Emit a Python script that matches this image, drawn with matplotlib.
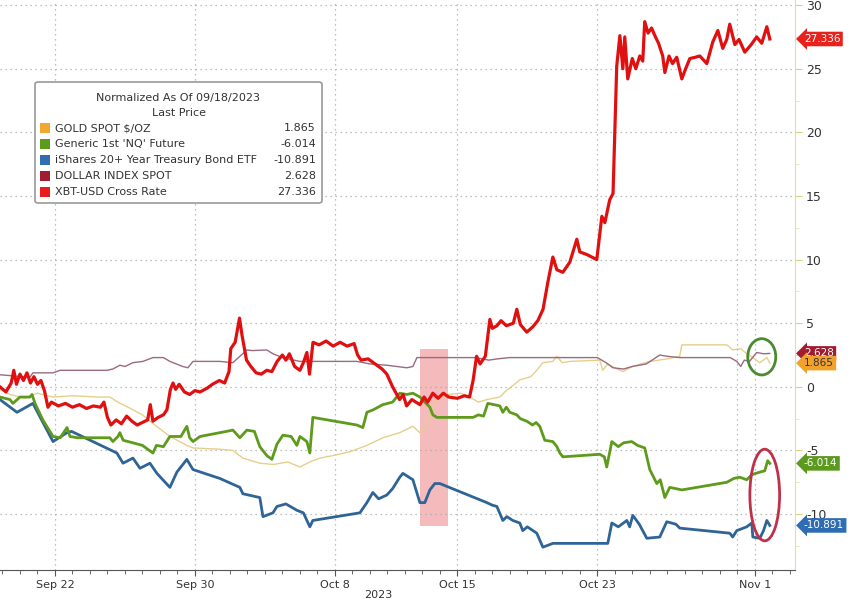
import numpy as np
import pandas as pd
import matplotlib
matplotlib.use('Agg')
import matplotlib.pyplot as plt
import matplotlib.dates as mdates
from matplotlib.patches import Ellipse, Rectangle, FancyBboxPatch
from matplotlib.transforms import blended_transform_factory

# days since 2023-09-18, values normalized (% change)
start = pd.Timestamp('2023-09-18')

xbt_t = [0.86, 1.2, 1.5, 1.65, 1.8, 2.0, 2.2, 2.4, 2.6, 2.8, 3.0, 3.2, 3.4, 3.6, 3.8, 4.2, 4.6,
         5.0, 5.4, 5.8, 6.2, 6.6, 6.8, 7.0, 7.2, 7.5, 7.8, 8.1, 8.4, 8.7, 9.0, 9.3, 9.45, 9.6,
         9.9, 10.2, 10.4, 10.6, 10.75, 10.9, 11.1, 11.4, 11.7, 12.0, 12.3, 12.7, 13.0, 13.4,
         13.7, 13.95, 14.05, 14.3, 14.55, 14.7, 14.95, 15.2, 15.5, 15.8, 16.1, 16.4, 16.7, 17.0,
         17.2, 17.4, 17.7, 18.0, 18.2, 18.4, 18.55, 18.75, 19.1, 19.5, 19.9, 20.3, 20.7, 21.1,
         21.3, 21.5, 21.9, 22.3, 22.7, 22.97, 23.3, 23.7, 23.9, 24.1, 24.4, 24.86, 25.1, 25.3,
         25.6, 25.9, 26.2, 26.5, 27.0, 27.4, 27.7, 27.9, 28.1, 28.3, 28.6, 28.86, 29.0, 29.26,
         29.5, 29.8, 30.2, 30.4, 30.6, 30.97, 31.3, 31.6, 31.9, 32.17, 32.46, 32.69, 33.03,
         33.43, 33.83, 34.0, 34.4, 34.97, 35.26, 35.43, 35.71, 35.9, 36.11, 36.29, 36.46, 36.57,
         36.74, 37.0, 37.2, 37.43, 37.6, 37.71, 37.9, 38.1, 38.29, 38.5, 38.74, 38.86, 39.1,
         39.3, 39.54, 39.83, 40.05, 40.29, 40.6, 40.86, 41.26, 41.6, 41.89, 42.17, 42.4, 42.57,
         42.86, 43.1, 43.43, 43.8, 44.11, 44.4, 44.69, 44.86]
xbt_v = [0.0, -0.4, 0.3, 1.3, 0.2, 1.0, 0.5, 1.1, 0.3, 0.8, 0.2, 0.5, -0.3, -1.6, -1.2, -1.5, -1.3,
         -1.6, -1.4, -1.7, -1.5, -1.6, -1.2, -2.4, -3.0, -2.6, -2.9, -2.3, -2.7, -3.0, -2.8, -2.6,
         -1.4, -2.7, -2.4, -2.2, -1.8, -0.2, 0.3, -0.2, 0.2, -0.4, -0.6, -0.3, -0.4, -0.1, 0.2,
         0.5, 0.3, 1.2, 3.0, 3.5, 5.4, 4.0, 2.1, 1.6, 1.1, 1.0, 1.3, 1.2, 2.0, 2.5, 2.1, 2.6, 1.6,
         1.3, 1.9, 2.7, 1.0, 3.5, 3.3, 3.6, 3.2, 3.5, 3.2, 3.4, 2.5, 2.1, 2.2, 1.8, 1.4, 1.0, 0.0,
         -1.0, -0.6, -1.5, -1.0, -1.4, -0.8, -1.2, -0.5, -0.9, -0.5, -0.8, -0.9, -0.7, -0.8, 0.5,
         2.4, 1.8, 2.4, 5.3, 4.6, 4.8, 5.2, 4.8, 5.0, 6.1, 4.9, 4.3, 4.7, 5.2, 6.1, 8.2, 10.2,
         9.2, 9.0, 9.8, 11.6, 10.6, 10.4, 10.0, 13.4, 12.9, 14.7, 15.2, 25.2, 27.6, 25.0, 27.5,
         24.2, 25.8, 25.0, 26.0, 25.6, 28.7, 27.8, 28.2, 27.6, 27.0, 26.0, 24.7, 26.0, 25.4,
         25.9, 24.2, 25.0, 25.8, 25.9, 26.0, 25.4, 27.1, 28.0, 26.6, 27.3, 28.5, 26.9, 27.3,
         26.3, 26.9, 27.5, 27.0, 28.3, 27.336]

tlt_t = [0.86, 1.83, 2.74, 2.97, 3.89, 4.69, 4.95, 7.54, 7.89, 8.46, 8.86, 9.43, 9.83, 10.57,
         10.97, 11.54, 11.89, 13.43, 14.57, 14.74, 15.71, 15.89, 16.46, 16.69, 17.2, 17.83, 18.2,
         18.57, 18.74, 21.43, 21.83, 22.17, 22.5, 22.97, 23.3, 23.71, 23.89, 24.46, 24.86, 25.14,
         25.43, 25.71, 26.0, 28.69, 29.0, 29.26, 29.6, 29.83, 30.17, 30.57, 30.74, 31.0, 31.54,
         31.89, 32.46, 35.6, 35.83, 36.2, 36.69, 36.85, 37.03, 37.4, 37.83, 38.57, 38.97, 39.5,
         39.71, 42.57, 42.74, 42.97, 43.54, 43.83, 43.89, 44.29, 44.5, 44.69, 44.86]
tlt_v = [-1.0, -2.0, -1.3, -1.9, -4.3, -3.6, -3.5, -5.2, -6.0, -5.6, -6.4, -6.0, -6.8, -7.9,
         -6.7, -5.7, -6.5, -7.2, -7.9, -8.4, -8.7, -10.2, -9.9, -9.4, -9.2, -9.7, -9.9, -11.0,
         -10.5, -9.9, -9.1, -8.3, -8.8, -8.5, -8.0, -7.1, -6.8, -7.3, -9.1, -9.1, -8.1, -7.6,
         -7.6, -9.1, -9.3, -9.4, -10.5, -10.2, -10.5, -10.7, -11.3, -11.0, -11.5, -12.6, -12.3,
         -12.3, -10.7, -11.0, -10.5, -11.0, -10.1, -10.8, -11.9, -11.8, -10.6, -10.8, -11.1,
         -11.5, -11.8, -11.3, -11.0, -10.7, -11.8, -11.9, -11.3, -10.5, -10.891]

nq_t = [0.86, 1.43, 1.60, 2.0, 2.57, 2.69, 2.86, 3.31, 3.89, 4.3, 4.69, 4.86, 5.3, 7.14, 7.31,
        7.6, 7.71, 7.9, 8.46, 9.0, 9.6, 9.8, 10.2, 10.57, 11.2, 11.54, 11.7, 11.89, 12.29, 13.43,
        14.17, 14.57, 14.97, 15.4, 15.71, 16.11, 16.40, 16.69, 17.03, 17.5, 17.83, 18.0, 18.40,
        18.57, 18.74, 21.26, 21.60, 21.83, 22.2, 22.74, 23.3, 23.71, 24.11, 24.46, 24.86, 25.43,
        25.6, 25.83, 27.9, 28.2, 28.5, 28.74, 29.1, 29.43, 29.6, 29.8, 30.0, 30.40, 30.6, 30.97,
        31.3, 31.5, 31.71, 32.0, 32.46, 32.69, 32.86, 33.03, 35.14, 35.40, 35.54, 35.83, 36.2,
        36.5, 36.97, 37.3, 37.71, 38.0, 38.40, 38.6, 38.86, 39.14, 39.5, 39.83, 42.40, 42.8,
        43.14, 43.54, 43.83, 44.29, 44.57, 44.74, 44.86]
nq_v = [-0.8, -1.0, -1.3, -0.8, -0.8, -0.6, -1.3, -2.6, -3.9, -4.0, -3.2, -3.9, -4.0, -4.0,
        -4.3, -3.9, -3.6, -4.2, -4.4, -4.6, -5.2, -4.6, -4.7, -3.9, -3.9, -3.1, -4.0, -4.3, -3.9,
        -3.6, -3.4, -4.0, -3.4, -3.5, -4.7, -5.4, -5.7, -4.5, -3.8, -3.9, -4.6, -3.9, -4.3, -5.2,
        -2.4, -3.0, -3.2, -2.0, -1.8, -1.4, -1.2, -0.5, -0.6, -0.5, -0.8, -1.6, -2.2, -2.4, -2.4,
        -2.2, -2.3, -1.3, -1.4, -1.5, -2.0, -1.6, -2.0, -2.2, -2.5, -2.7, -3.0, -2.8, -3.1, -4.2,
        -4.3, -4.7, -5.2, -5.5, -5.3, -5.5, -6.3, -4.3, -4.7, -4.4, -4.3, -4.6, -4.8, -6.5, -7.6,
        -7.3, -8.7, -7.9, -8.0, -8.1, -7.5, -7.2, -7.1, -7.3, -6.9, -6.7, -6.6, -5.8, -6.014]

gold_t = [0.86, 1.43, 2.29, 3.0, 3.89, 5.0, 6.5, 7.14, 7.6, 8.46, 9.0, 9.43, 10.0, 10.57, 11.54,
          11.89, 13.43, 14.17, 14.74, 15.71, 16.5, 17.3, 18.0, 18.57, 19.14, 19.89, 20.86, 21.83,
          22.74, 23.71, 24.46, 24.86, 25.26, 25.60, 26.0, 26.5, 27.2, 27.71, 28.2, 28.69, 29.43,
          29.83, 30.17, 30.57, 31.2, 31.54, 31.89, 32.46, 32.69, 33.0, 33.43, 35.14, 35.31, 35.6,
          36.0, 36.46, 37.0, 38.0, 39.0, 39.71, 39.83, 42.40, 42.74, 43.2, 43.54, 43.89, 44.29,
          44.69, 44.86]
gold_v = [-0.2, -0.6, -0.9, -0.5, -0.8, -0.7, -0.8, -0.8, -1.2, -1.8, -2.2, -2.7, -3.3, -3.9,
          -4.6, -4.8, -4.9, -5.0, -5.6, -6.0, -6.1, -5.9, -6.3, -5.9, -5.6, -5.4, -5.1, -4.6,
          -4.0, -3.6, -3.1, -3.6, -3.0, -1.6, -0.8, -0.6, -0.5, -0.8, -1.2, -1.0, -0.8, -0.25,
          0.1, 0.55, 0.8, 1.3, 1.9, 2.0, 2.4, 1.9, 2.0, 2.1, 1.3, 1.8, 1.5, 1.2, 1.6, 2.0, 2.2,
          2.4, 3.3, 3.3, 2.9, 3.0, 2.6, 2.3, 1.9, 2.3, 1.865]

dxy_t = [0.86, 2.57, 2.74, 3.89, 4.3, 6.97, 7.31, 7.71, 8.0, 8.46, 9.03, 9.60, 10.2, 10.57, 11.31,
         11.6, 11.89, 13.43, 14.17, 14.57, 14.97, 15.3, 16.11, 16.46, 17.0, 18.0, 21.26, 22.0,
         22.97, 24.11, 24.46, 24.69, 26.5, 28.0, 28.8, 29.3, 30.0, 35.0, 35.5, 35.89, 36.5, 37.0,
         37.8, 38.57, 39.0, 39.71, 42.6, 42.97, 43.2, 43.4, 43.7, 44.11, 44.5, 44.86]
dxy_v = [0.95, 0.75, 1.1, 1.1, 1.3, 1.3, 1.4, 1.7, 1.6, 1.9, 2.0, 2.3, 2.3, 2.0, 1.6, 1.5, 2.0,
         2.0, 1.9, 2.4, 2.9, 2.85, 2.9, 2.6, 2.3, 2.0, 2.0, 1.8, 1.7, 1.5, 1.6, 2.3, 2.3, 2.3, 2.1,
         2.2, 2.3, 2.3, 1.9, 1.5, 1.4, 1.6, 1.8, 2.5, 2.4, 2.3, 2.3, 2.0, 1.6, 2.1, 2.0, 2.7, 2.6,
         2.628]

names = ['GOLD SPOT $/OZ', "Generic 1st 'NQ' Future", 'iShares 20+ Year Treasury Bond ETF',
         'DOLLAR INDEX SPOT', 'XBT-USD Cross Rate']
last = [1.865, -6.014, -10.891, 2.628, 27.336]
swatch = ['#f0a830', '#5c9a1e', '#2f6db0', '#a01c30', '#e81c1c']
tag_colors = ['#f2a12a', '#5c9a1e', '#2e6db4', '#a3192e', '#e8211d']
tick_dates = ['2023-09-22', '2023-09-30', '2023-10-08', '2023-10-15', '2023-10-23', '2023-11-01']
tick_labels = ['Sep 22', 'Sep 30', 'Oct 8', 'Oct 15', 'Oct 23', 'Nov 1']


def to_dates(days):
    return start + pd.to_timedelta(np.array(days), unit='D')


def dnum(day):
    return mdates.date2num(start + pd.Timedelta(days=day))


fig = plt.figure(figsize=(8.48, 6.02), dpi=100)
ax = fig.add_axes([0.0, 0.053, 0.9375, 0.947])

ax.plot(to_dates(gold_t), gold_v, color='#e6cf8a', lw=1.0, zorder=2)
ax.plot(to_dates(dxy_t), dxy_v, color='#9a6a82', lw=1.0, zorder=2)
ax.plot(to_dates(tlt_t), tlt_v, color='#2f6496', lw=2.0, zorder=3)
ax.plot(to_dates(nq_t), nq_v, color='#5e9a1c', lw=2.0, zorder=3)
ax.plot(to_dates(xbt_t), xbt_v, color='#e01010', lw=2.3, zorder=4)

# shaded window
ax.add_patch(Rectangle((dnum(24.86), -10.9), dnum(26.46) - dnum(24.86), 13.9,
                       facecolor='#f4aeb0', edgecolor='none', alpha=0.85, zorder=1))
# circles
ax.add_patch(Ellipse((dnum(44.4), 2.36), 1.6, 2.85, fill=False, edgecolor='#4a8a30', lw=2, zorder=5))
ax.add_patch(Ellipse((dnum(44.57), -8.5), 1.7, 7.2, fill=False, edgecolor='#c0304a', lw=2, zorder=5))

ax.set_xlim(dnum(0.86), dnum(46.3))
ax.set_ylim(-14.4, 30.4)

ax.set_xticks(pd.to_datetime(tick_dates))
ax.set_xticklabels(tick_labels, fontsize=8, color='#333333')
ax.xaxis.set_minor_locator(mdates.DayLocator())
ax.tick_params(axis='x', which='major', length=4, color='#555555', pad=3)
ax.tick_params(axis='x', which='minor', length=3, color='#555555')

ax.yaxis.tick_right()
ax.set_yticks(np.arange(-10, 31, 5))
ax.set_yticklabels([str(v) for v in range(-10, 31, 5)], fontsize=9, color='#333333')
ax.set_yticks(np.arange(-12.5, 30, 5), minor=True)
ax.tick_params(axis='y', which='major', length=5, color='#d8cf80', pad=3)
ax.tick_params(axis='y', which='minor', length=3, color='#e6e0b0')

ax.grid(True, which='major', linestyle=(0, (1, 3)), color='#aaaaaa', lw=0.9)
ax.axvline(pd.Timestamp('2023-10-31'), linestyle=(0, (1, 3)), color='#aaaaaa', lw=0.9)

for s in ['top', 'left']:
    ax.spines[s].set_visible(False)
ax.spines['right'].set_color('#e6dca0')
ax.spines['bottom'].set_color('#555555')

fig.text(378 / 848, 1 - 595 / 602, '2023', fontsize=8, color='#333333', ha='center', va='center')

# last value tags on the right axis (gold drawn over dollar)
tr = blended_transform_factory(fig.transFigure, ax.transData)
for k, i in enumerate([3, 0, 4, 1, 2]):
    txtc = '#333333' if i == 0 else 'white'
    ax.text(804 / 848, last[i], '%.3f' % last[i], transform=tr, fontsize=7.5, color=txtc,
            ha='left', va='center', zorder=10 + k,
            bbox=dict(boxstyle='larrow,pad=0.22', fc=tag_colors[i], ec='none'))

# legend box
box = FancyBboxPatch((35 / 848, 1 - 203 / 602), 287 / 848, 121 / 602,
                     boxstyle='round,pad=0,rounding_size=0.004', transform=fig.transFigure,
                     facecolor='white', edgecolor='#9a9a9a', lw=1.2, zorder=20)
fig.patches.append(box)
fig.text(178.5 / 848, 1 - 98 / 602, 'Normalized As Of 09/18/2023', fontsize=8,
         ha='center', va='center', color='#333333', zorder=21)
fig.text(178.5 / 848, 1 - 113 / 602, 'Last Price', fontsize=8,
         ha='center', va='center', color='#333333', zorder=21)
for i, name in enumerate(names):
    yy = 1 - (128 + 16 * i) / 602
    fig.patches.append(Rectangle((40 / 848, yy - 5 / 602), 10 / 848, 10 / 602,
                                 transform=fig.transFigure, facecolor=swatch[i],
                                 edgecolor='none', zorder=21))
    fig.text(55 / 848, yy, name, fontsize=8, ha='left', va='center', color='#333333', zorder=21)
    fig.text(316 / 848, yy, '%.3f' % last[i], fontsize=8, ha='right', va='center',
             color='#333333', zorder=21)

plt.savefig('out.png', dpi=100)
